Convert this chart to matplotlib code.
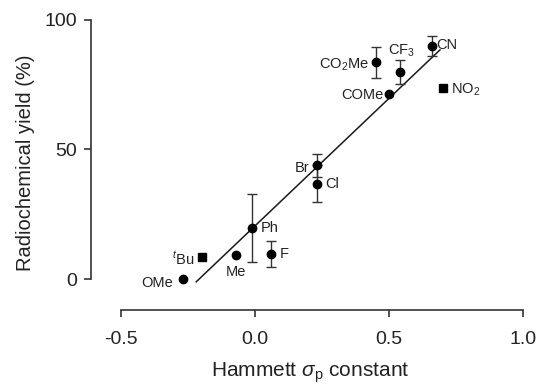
import numpy as np
import matplotlib
matplotlib.use("Agg")
import matplotlib.pyplot as plt

plt.rcParams['font.family'] = ['Liberation Sans', 'DejaVu Sans']
plt.rcParams['mathtext.fontset'] = 'custom'
plt.rcParams['mathtext.rm'] = 'Liberation Sans'
plt.rcParams['mathtext.it'] = 'Liberation Sans:italic'

# substituents, Hammett sigma_p, yield (%), error (%)
names = ['OMe', '$^t$Bu', 'Me', 'Ph', 'F', 'Br', 'Cl', 'COMe', 'CO$_2$Me', 'CF$_3$', 'CN', 'NO$_2$']
sigma = [-0.27, -0.20, -0.07, -0.01, 0.06, 0.23, 0.23, 0.50, 0.45, 0.54, 0.66, 0.70]
rcy   = [0.0, 8.5, 9.3, 19.8, 9.8, 43.8, 36.8, 71.5, 83.5, 79.8, 89.8, 73.5]
err   = [0, 0, 0, 13.0, 5.0, 4.5, 7.0, 0, 6.0, 4.5, 4.0, 0]
square = [False, True, False, False, False, False, False, False, False, False, False, True]

# label offsets in points, alignment
lab_off = [(-7, -3), (-5, -1), (0, -12), (6, 0), (6, 0), (-5, -2), (6, 0), (-4, -1), (-5, -2), (1, 15), (3, 1), (6, -1)]
lab_ha = ['right', 'right', 'center', 'left', 'left', 'right', 'left', 'right', 'right', 'center', 'left', 'left']

# linear fit drawn across the data
fit_x = [-0.22, 0.69]
fit_y = [-1.0, 88.3]

fig = plt.figure(figsize=(5.43, 3.87), dpi=100)
ax = fig.add_axes([0.168, 0.198, 0.805, 0.765])

ax.plot(fit_x, fit_y, color='#1a1a1a', lw=1.1, zorder=2)

for i in range(len(names)):
	mk = 's' if square[i] else 'o'
	ms = 5.5 if square[i] else 6
	if err[i] > 0:
		ax.errorbar(sigma[i], rcy[i], yerr=err[i], fmt=mk, ms=ms, color='black',
			ecolor='#333333', elinewidth=1.0, capsize=3.5, capthick=1.0, zorder=3)
	else:
		ax.plot(sigma[i], rcy[i], mk, ms=ms, color='black', zorder=3)
	ax.annotate(names[i], (sigma[i], rcy[i]), xytext=lab_off[i], textcoords='offset points',
		ha=lab_ha[i], va='center', fontsize=10.5, color='#222222')

ax.set_xlim(-0.612, 1.02)
ax.set_ylim(-12.0, 102)
ax.spines['top'].set_visible(False)
ax.spines['right'].set_visible(False)
ax.spines['left'].set_bounds(0, 100)
ax.spines['bottom'].set_bounds(-0.5, 1.0)
for s in ['left', 'bottom']:
	ax.spines[s].set_linewidth(1.2)
	ax.spines[s].set_color('#333333')

ax.set_xticks([-0.5, 0.0, 0.5, 1.0])
ax.set_xticklabels(['-0.5', '0.0', '0.5', '1.0'])
ax.set_yticks([0, 50, 100])
ax.tick_params(direction='out', length=5, width=1.2, color='#333333', labelsize=14, labelcolor='#222222')
ax.tick_params(axis='x', pad=10)
ax.tick_params(axis='y', pad=5)

ax.set_xlabel('Hammett $\\mathit{\\sigma}_\\mathrm{p}$ constant', fontsize=15, color='#222222', labelpad=9)
ax.set_ylabel('Radiochemical yield (%)', fontsize=14.5, color='#222222', labelpad=7)

fig.savefig('out.png', dpi=100)
